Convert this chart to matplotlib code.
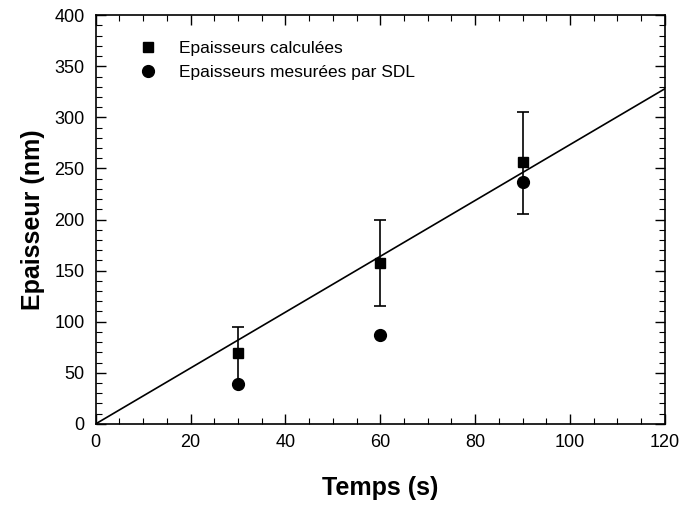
import numpy as np
import matplotlib.pyplot as plt
from matplotlib.ticker import MultipleLocator
from matplotlib.lines import Line2D

plt.rcParams['font.family'] = ['Liberation Sans', 'DejaVu Sans']

# --- data ---
temps = [30, 60, 90]
ep_calc = [69, 157, 256]
err_low = [31, 42, 51]
err_high = [26, 43, 49]
ep_sdl = [39, 87, 237]

# linear fit through the origin
fit_x = [0, 120]
fit_y = [0, 328]

fig, ax = plt.subplots(figsize=(6.84, 5.07), dpi=100)
fig.subplots_adjust(left=0.140, right=0.972, top=0.970, bottom=0.164)

ax.plot(fit_x, fit_y, color="black", linewidth=1.2, zorder=2)
ax.errorbar(temps, ep_calc, yerr=[err_low, err_high], fmt="s", color="black",
            markersize=7, ecolor="black", elinewidth=1.2, capsize=4, capthick=1.2,
            zorder=3)
ax.plot(temps, ep_sdl, "o", color="black", markersize=8.5, zorder=4)

ax.set_xlim(0, 120)
ax.set_ylim(0, 400)
ax.xaxis.set_major_locator(MultipleLocator(20))
ax.xaxis.set_minor_locator(MultipleLocator(5))
ax.yaxis.set_major_locator(MultipleLocator(50))
ax.yaxis.set_minor_locator(MultipleLocator(10))
ax.tick_params(which="both", direction="in", top=True, right=True, labelsize=13)
ax.tick_params(which="major", length=7, width=1)
ax.tick_params(which="minor", length=4, width=0.8)
ax.tick_params(axis="x", pad=7)
ax.tick_params(axis="y", pad=8)
for sp in ax.spines.values():
    sp.set_linewidth(1.2)

ax.set_xlabel("Temps (s)", fontsize=18, fontweight="bold", labelpad=18)
ax.set_ylabel("Epaisseur (nm)", fontsize=18, fontweight="bold", labelpad=7)

handles = [
    Line2D([], [], marker="s", linestyle="none", color="black", markersize=7),
    Line2D([], [], marker="o", linestyle="none", color="black", markersize=8.5),
]
labels = ["Epaisseurs calculées", "Epaisseurs mesurées par SDL"]
ax.legend(handles, labels, loc="upper left", bbox_to_anchor=(0.057, 0.955),
          frameon=False, fontsize=12.5, handletextpad=1.0, borderaxespad=0,
          labelspacing=0.55, handlelength=1.5)

plt.savefig("out.png", dpi=100)
